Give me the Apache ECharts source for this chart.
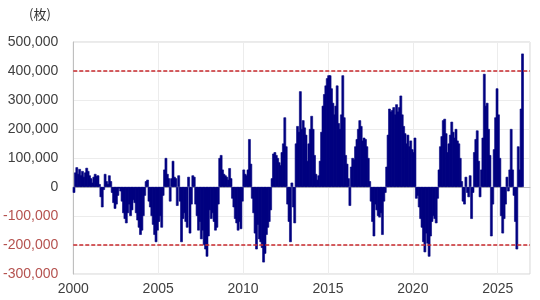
<!DOCTYPE html>
<html>
<head>
<meta charset="utf-8">
<script src="https://cdn.jsdelivr.net/npm/echarts@6/dist/echarts.min.js"></script>
<style>
  html, body { margin: 0; padding: 0; background: #fff; }
  #chart { width: 540px; height: 300px; }
</style>
</head>
<body>
<div id="chart"></div>
<script>
// monthly net position (thousand contracts), Jan 2000 .. Jun 2026
const startYear = 2000;
const monthlyNet = [
  -20, 50, 68, 45, 62, 40, 55, 35, 50, 66, 55, 40,
  30, 15, 35, 45, 38, 40, 10, -35, -70, -10, 45, 20,
  10, 40, 20, -20, -55, -75, -60, -30, -5, -15, -50, -90,
  -110, -125, -90, -60, -100, -80, -45, -55, -90, -115, -140, -165,
  -150, -100, -30, 20, 25, -50, -70, -100, -130, -165, -190, -150,
  -120, -100, -140, -30, 60, 100, 45, 30, -50, 30, 90, 35,
  30, -65, 40, -50, -190, -110, -90, -120, -140, 35, -160, -60,
  40, 35, -60, -100, -150, -120, -180, -150, -200, -215, -240, -170,
  -80, -110, -90, -120, -150, -140, -60, 100, 110, 60, 45, 40,
  35, 25, 65, 30, -40, -70, -110, -125, -150, -120, -145, -50,
  60, 45, 40, 60, 165, 80, -40, -90, -160, -215, -130, -180,
  -190, -210, -260, -230, -165, -140, -120, -80, 30, 115, 120, 110,
  100, 85, 75, 120, 150, 240, 140, -60, -120, -190, 15, -70,
  -125, 150, 210, 190, 330, 200, 230, 205, 180, 90, 150, 200,
  245, 200, 110, 45, 25, 40, 90, 190, 280, 320, 350, 375,
  385, 385, 340, 290, 250, 280, 350, 220, 200, 250, 385, 240,
  110, 80, 30, -65, 70, 100, 95, 140, 165, 200, 230, 210,
  160, 170, 165, 140, 100, 20, -50, -120, -170, -60, -80, -100,
  -105, -90, -165, -50, -20, 70, 180, 270, 260, 265, 275, 250,
  285, 260, 275, 315, 250, 210, 185, 150, 180, 140, 160, 130,
  120, 170, -40, -30, -70, -110, -140, -190, -225, -160, -195, -240,
  -170, -120, -100, -110, -125, -40, 60, 140, 175, 230, 235, 185,
  120, 150, 180, 225, 190, 170, 200, 160, 150, 100, 20, -50,
  -60, 35, -20, -35, 40, -110, -20, 120, 165, 195, 90, -35,
  60, 170, 390, 280, 290, 200, 110, -170, -60, 130, 240, 340,
  250, 100, -100, -160, -110, -60, 35, -15, 60, 200, 60, -30,
  -120, -215, 140, 60, 270, 460
];
const yearTicks = [2000, 2005, 2010, 2015, 2020, 2025];
const refLines = [400000, -200000];

const points = monthlyNet.map((v, i) => [startYear + (i + 0.5) / 12, v * 1000]);

const chart = echarts.init(document.getElementById('chart'));

chart.setOption({
  animation: false,
  title: {
    text: '(枚)',
    left: 24,
    top: 3,
    textStyle: { fontSize: 13, fontWeight: 'normal', color: '#333', fontFamily: 'Noto Sans CJK JP' }
  },
  grid: {
    left: 73, right: 10, top: 42, bottom: 26,
    show: true, borderColor: '#d4d4d4', borderWidth: 1
  },
  xAxis: {
    type: 'value',
    min: 2000,
    max: 2026.9,
    interval: 5,
    axisLine: { show: true, lineStyle: { color: '#bfbfbf' } },
    axisTick: { show: false },
    splitLine: { show: true, lineStyle: { color: '#ececec' } },
    axisLabel: {
      fontSize: 14,
      color: '#404040',
      fontFamily: 'Liberation Sans',
      margin: 8,
      formatter: v => (yearTicks.includes(v) ? String(v) : '')
    }
  },
  yAxis: {
    type: 'value',
    min: -300000,
    max: 500000,
    interval: 100000,
    axisLine: { show: true, lineStyle: { color: '#bfbfbf' } },
    axisTick: { show: false },
    splitLine: { show: true, lineStyle: { color: '#ececec' } },
    axisLabel: {
      fontSize: 14,
      fontFamily: 'Liberation Sans',
      margin: 15,
      color: v => (Number(v) < 0 ? '#b5524f' : '#404040')
    }
  },
  series: [{
    type: 'bar',
    data: points,
    barWidth: 2.6,
    barMinWidth: 2.6,
    itemStyle: { color: '#000080', borderColor: '#000080', borderWidth: 0.6 },
    markLine: {
      silent: true,
      symbol: 'none',
      label: { show: false },
      lineStyle: { color: '#c8282d', type: [4, 2], width: 1.5 },
      data: refLines.map(y => ({ yAxis: y }))
    }
  }]
});
</script>
</body>
</html>
